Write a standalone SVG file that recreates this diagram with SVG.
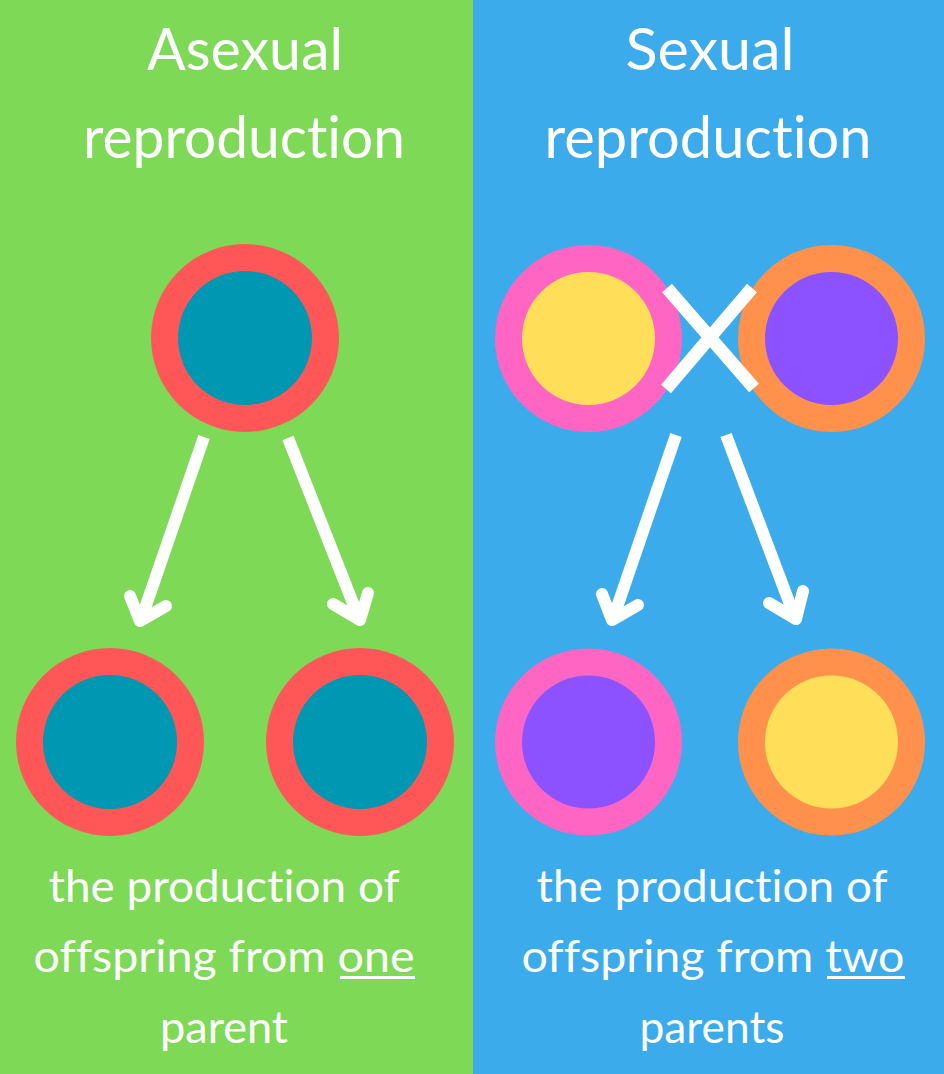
<svg xmlns="http://www.w3.org/2000/svg" width="944" height="1074" viewBox="0 0 944 1074">
<style>
.t{font-family:Lato,"Open Sans","Liberation Sans",sans-serif;fill:#ffffff;text-anchor:middle;font-variant-ligatures:none;font-feature-settings:"liga" 0,"clig" 0}
.h{font-size:58px}
.b{font-size:44px}
.sh{stroke:#ffffff;stroke-width:12;fill:none;stroke-linecap:butt}
.hd{stroke:#ffffff;stroke-width:12;fill:none;stroke-linecap:round;stroke-linejoin:round}
.x{stroke:#ffffff;stroke-width:13;stroke-linecap:butt}
</style>
<rect id="panel-asexual" x="0" y="0" width="473" height="1074" fill="#7ED957"/>
<rect id="panel-sexual" x="473" y="0" width="471" height="1074" fill="#3CABEC"/>
<g id="title-asexual">
<text class="t h" x="245" y="70" textLength="196" lengthAdjust="spacingAndGlyphs">Asexual</text>
<text class="t h" x="244" y="158" textLength="322" lengthAdjust="spacingAndGlyphs">reproduction</text>
</g>
<g id="title-sexual">
<text class="t h" x="710" y="70" textLength="169" lengthAdjust="spacingAndGlyphs">Sexual</text>
<text class="t h" x="708" y="158" textLength="327" lengthAdjust="spacingAndGlyphs">reproduction</text>
</g>
<g id="parent-asexual"><circle cx="245" cy="338" r="94" fill="#FF5757"/><circle cx="245" cy="338" r="67" fill="#0097B2"/></g>
<g id="child-asexual-1"><circle cx="110" cy="742" r="94" fill="#FF5757"/><circle cx="110" cy="742" r="67" fill="#0097B2"/></g>
<g id="child-asexual-2"><circle cx="360" cy="742" r="94" fill="#FF5757"/><circle cx="360" cy="742" r="67" fill="#0097B2"/></g>
<g id="parent-sexual-1"><circle cx="588.5" cy="338.5" r="93.5" fill="#FF66C4"/><circle cx="588.5" cy="338.5" r="66.5" fill="#FFDE59"/></g>
<g id="parent-sexual-2"><circle cx="831.5" cy="338.5" r="93.5" fill="#FF914D"/><circle cx="831.5" cy="338.5" r="66.5" fill="#8C52FF"/></g>
<g id="cross"><line class="x" x1="667" y1="288" x2="754" y2="388"/><line class="x" x1="752" y1="288" x2="666" y2="389"/></g>
<g id="child-sexual-1"><circle cx="588.5" cy="742" r="93.5" fill="#FF66C4"/><circle cx="588.5" cy="742" r="66.5" fill="#8C52FF"/></g>
<g id="child-sexual-2"><circle cx="831.5" cy="742" r="93.5" fill="#FF914D"/><circle cx="831.5" cy="742" r="66.5" fill="#FFDE59"/></g>
<g id="connectors">
<line class="sh" x1="204" y1="437" x2="142" y2="617"/>
<polyline class="hd" points="130,596 140,621 166,606"/>
<line class="sh" x1="288" y1="438" x2="358" y2="616"/>
<polyline class="hd" points="368,593 360,620 333,604"/>
<line class="sh" x1="676" y1="435" x2="614" y2="616"/>
<polyline class="hd" points="602,594 612,620 638,605"/>
<line class="sh" x1="726" y1="435" x2="794" y2="615"/>
<polyline class="hd" points="803,591 796,619 769,603"/>
</g>
<g id="desc-asexual">
<text class="t b" x="224" y="902" textLength="351" lengthAdjust="spacingAndGlyphs">the production of</text>
<text class="t b" x="224" y="972" textLength="381" lengthAdjust="spacingAndGlyphs">offspring from one</text>
<rect x="340" y="976" width="75" height="3" fill="#ffffff"/>
<text class="t b" x="224" y="1043" textLength="128" lengthAdjust="spacingAndGlyphs">parent</text>
</g>
<g id="desc-sexual">
<text class="t b" x="712" y="902" textLength="351" lengthAdjust="spacingAndGlyphs">the production of</text>
<text class="t b" x="713" y="972" textLength="383" lengthAdjust="spacingAndGlyphs">offspring from two</text>
<rect x="827" y="976" width="78" height="3" fill="#ffffff"/>
<text class="t b" x="712" y="1043" textLength="145" lengthAdjust="spacingAndGlyphs">parents</text>
</g>
</svg>
